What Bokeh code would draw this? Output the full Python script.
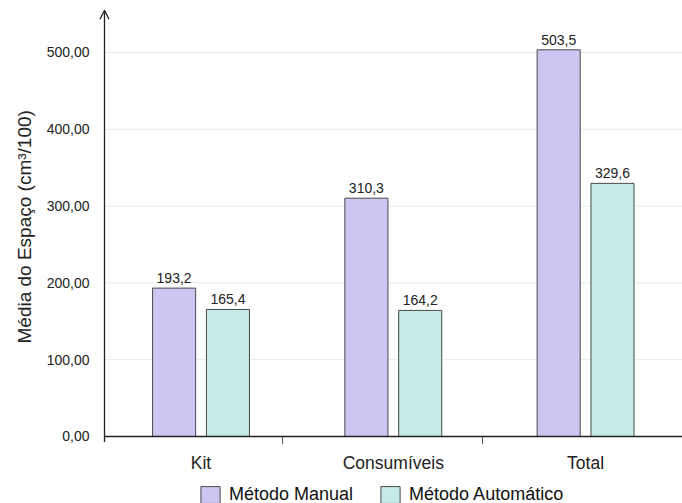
from bokeh.plotting import figure
from bokeh.models import (ColumnDataSource, FixedTicker, Legend, LegendItem,
                          Arrow, OpenHead, Title)
from bokeh.core.properties import value
from bokeh.embed import file_html
from bokeh.resources import INLINE

# Data
categorias = ["Kit", "Consumíveis", "Total"]
manual = [193.2, 310.3, 503.5]
automatico = [165.4, 164.2, 329.6]
y_ticks = [0, 100, 200, 300, 400, 500]
y_tick_labels = ["0,00", "100,00", "200,00", "300,00", "400,00", "500,00"]
series = ["Método Manual", "Método Automático"]
y_titulo = "Média do Espaço  (cm³/100)"

FONT = "Liberation Sans"
COR_MANUAL = "#cdc6f2"
COR_AUTO = "#c4ebe7"
CONTORNO = "#4a4a4a"
TXT = "#222222"

idx = list(range(len(categorias)))
offset = 0.14
largura = 0.224

src_m = ColumnDataSource(dict(
    x=[i - offset for i in idx], top=manual,
    lab=[f"{v:.1f}".replace(".", ",") for v in manual]))
src_a = ColumnDataSource(dict(
    x=[i + offset for i in idx], top=automatico,
    lab=[f"{v:.1f}".replace(".", ",") for v in automatico]))
src_cat = ColumnDataSource(dict(x=idx, y=[0] * len(idx), nome=categorias))

x0_axis = -0.502
p = figure(width=682, height=503, x_range=(-0.554, 2.504), y_range=(-87.24, 562.5),
           output_backend="svg", toolbar_location=None, x_axis_location=None,
           min_border_left=94, min_border_right=0, min_border_top=4,
           min_border_bottom=0)
p.outline_line_color = None
p.background_fill_color = "white"
p.border_fill_color = "white"
for g in p.grid:
    g.visible = False

# horizontal gridlines
p.segment(x0=[x0_axis] * len(y_ticks[1:]), x1=[2.6] * len(y_ticks[1:]),
          y0=y_ticks[1:], y1=y_ticks[1:], line_color="#e8e8e8", line_width=1)

r_m = p.vbar(x="x", top="top", width=largura, bottom=0, source=src_m,
             fill_color=COR_MANUAL, line_color=CONTORNO, line_width=1)
r_a = p.vbar(x="x", top="top", width=largura, bottom=0, source=src_a,
             fill_color=COR_AUTO, line_color=CONTORNO, line_width=1)

# value labels above the bars
for s in (src_m, src_a):
    p.text(x="x", y="top", text="lab", source=s, text_align="center",
           text_baseline="alphabetic", y_offset=-10, text_font_size="14px",
           text_font=value(FONT), text_color=TXT)

# axis lines with arrow heads
p.add_layout(Arrow(end=OpenHead(size=9, line_width=1.3, line_color="#222222"),
                   x_start=x0_axis, y_start=-7, x_end=x0_axis, y_end=555,
                   line_color="#222222", line_width=1.3))
p.add_layout(Arrow(end=OpenHead(size=9, line_width=1.3, line_color="#222222"),
                   x_start=x0_axis, y_start=0, x_end=2.7, y_end=0,
                   line_color="#222222", line_width=1.5))

# separator ticks between the category groups
sep = [0.424, 1.464]
p.segment(x0=sep, x1=sep, y0=[0, 0], y1=[-10, -10], line_color="#555555",
          line_width=1)

# category names under the x axis
p.text(x="x", y="y", text="nome", source=src_cat, text_align="center",
       text_baseline="alphabetic", y_offset=27, text_font_size="17.5px",
       text_font=value(FONT), text_color=TXT)

# y axis: labels only
p.yaxis.ticker = FixedTicker(ticks=y_ticks)
p.yaxis.major_label_overrides = {t: l for t, l in zip(y_ticks, y_tick_labels)}
p.yaxis.axis_line_color = None
p.yaxis.major_tick_line_color = None
p.yaxis.minor_tick_line_color = None
p.yaxis.major_tick_out = 0
p.yaxis.major_tick_in = 0
p.yaxis.major_label_standoff = 5
p.yaxis.major_label_text_font = FONT
p.yaxis.major_label_text_font_size = "14px"
p.yaxis.major_label_text_color = TXT

# vertical y-axis title, lifted so it sits over the plotted value range
p.add_layout(Title(text=y_titulo, align="left", offset=160,
                   text_font=FONT, text_font_size="19px",
                   text_font_style="normal", text_color=TXT, standoff=17),
             "left")

legend = Legend(items=[LegendItem(label=series[0], renderers=[r_m]),
                       LegendItem(label=series[1], renderers=[r_a])],
                orientation="horizontal", location=(104, -2),
                glyph_width=24, glyph_height=21, label_height=21,
                label_standoff=7, spacing=25,
                label_text_font=FONT, label_text_font_size="18px",
                label_text_color="#111111", border_line_color=None,
                background_fill_alpha=0, padding=0, margin=0)
p.add_layout(legend, "center")

open("out.html", "w").write(file_html(p, INLINE))
